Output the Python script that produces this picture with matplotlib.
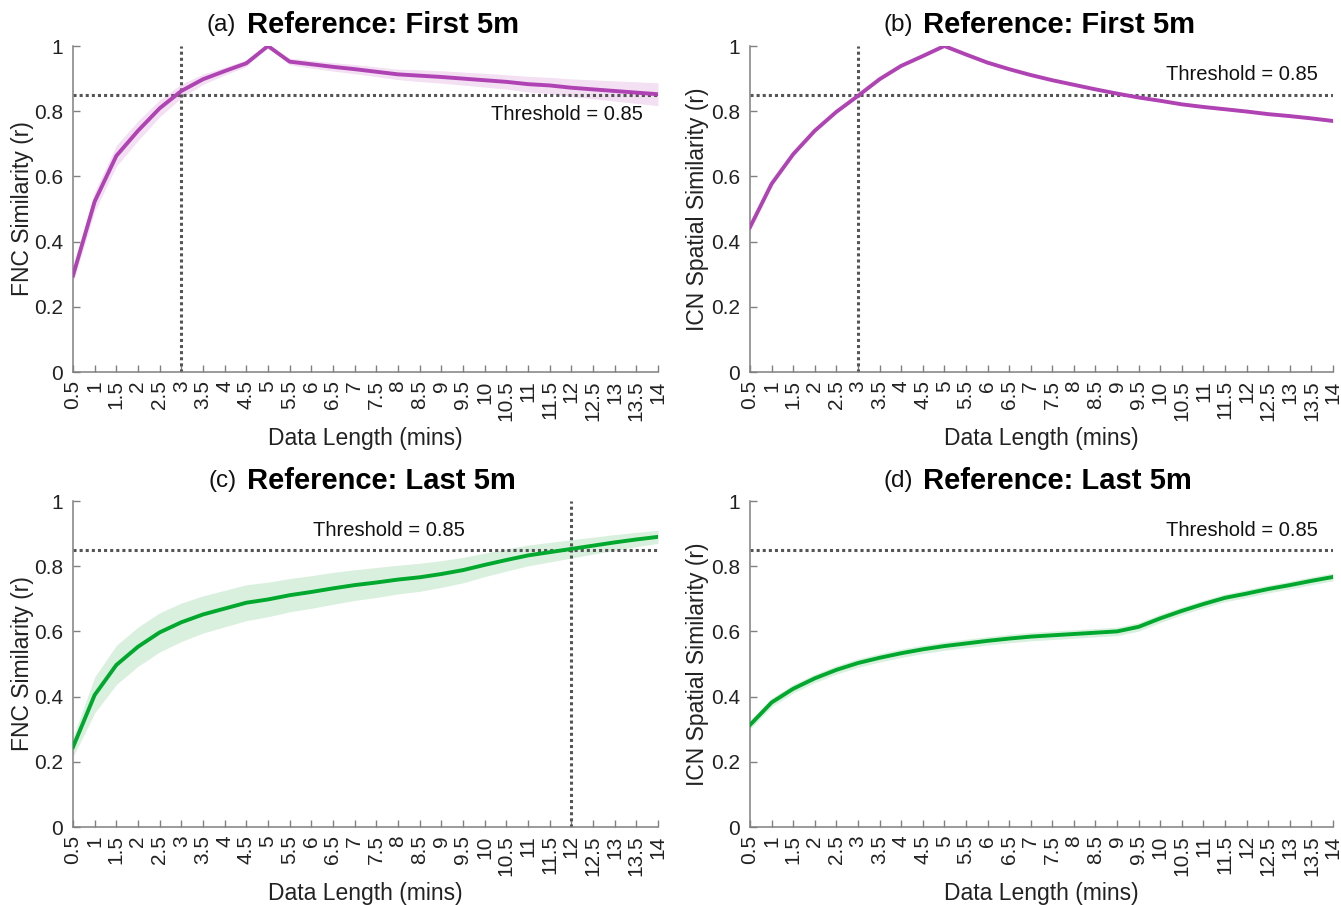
import numpy as np
import matplotlib
matplotlib.use("Agg")
import matplotlib.pyplot as plt

plt.rcParams['font.family'] = ['Liberation Sans', 'DejaVu Sans']

# ---------------- data ----------------
data_length = [0.5, 1, 1.5, 2, 2.5, 3, 3.5, 4, 4.5, 5, 5.5, 6, 6.5, 7, 7.5,
               8, 8.5, 9, 9.5, 10, 10.5, 11, 11.5, 12, 12.5, 13, 13.5, 14]
xtick_labels = ['0.5', '1', '1.5', '2', '2.5', '3', '3.5', '4', '4.5', '5', '5.5',
                '6', '6.5', '7', '7.5', '8', '8.5', '9', '9.5', '10', '10.5', '11',
                '11.5', '12', '12.5', '13', '13.5', '14']
ytick_values = [0, 0.2, 0.4, 0.6, 0.8, 1]
ytick_labels = ['0', '0.2', '0.4', '0.6', '0.8', '1']

# (a) FNC, reference first 5m
fnc_first_mean = [0.296, 0.523, 0.663, 0.740, 0.809, 0.862, 0.898, 0.923, 0.947, 1.000,
                  0.952, 0.944, 0.936, 0.929, 0.921, 0.913, 0.909, 0.905, 0.900, 0.895,
                  0.890, 0.883, 0.879, 0.872, 0.867, 0.862, 0.857, 0.852]
fnc_first_sd = [0.020, 0.030, 0.032, 0.030, 0.026, 0.021, 0.016, 0.012, 0.010, 0.000,
                0.010, 0.012, 0.013, 0.014, 0.015, 0.016, 0.018, 0.019, 0.020, 0.021,
                0.022, 0.024, 0.025, 0.027, 0.029, 0.031, 0.033, 0.035]

# (b) ICN, reference first 5m
icn_first_mean = [0.444, 0.577, 0.668, 0.740, 0.798, 0.847, 0.898, 0.939, 0.969, 1.000,
                  0.974, 0.949, 0.929, 0.911, 0.895, 0.881, 0.867, 0.854, 0.842, 0.832,
                  0.821, 0.813, 0.806, 0.799, 0.791, 0.785, 0.778, 0.770]
icn_first_sd = [0.004, 0.004, 0.004, 0.003, 0.003, 0.003, 0.002, 0.002, 0.001, 0.000,
                0.001, 0.002, 0.002, 0.002, 0.003, 0.003, 0.003, 0.003, 0.003, 0.003,
                0.003, 0.004, 0.004, 0.004, 0.004, 0.004, 0.004, 0.004]

# (c) FNC, reference last 5m
fnc_last_mean = [0.245, 0.405, 0.497, 0.553, 0.597, 0.628, 0.652, 0.670, 0.688, 0.698,
                 0.711, 0.721, 0.732, 0.742, 0.750, 0.759, 0.766, 0.776, 0.788, 0.804,
                 0.819, 0.833, 0.843, 0.853, 0.863, 0.873, 0.882, 0.890]
fnc_last_sd = [0.030, 0.055, 0.060, 0.060, 0.060, 0.059, 0.057, 0.056, 0.055, 0.053,
               0.051, 0.050, 0.049, 0.047, 0.046, 0.044, 0.043, 0.041, 0.039, 0.036,
               0.034, 0.032, 0.030, 0.028, 0.026, 0.024, 0.022, 0.020]

# (d) ICN, reference last 5m
icn_last_mean = [0.313, 0.382, 0.424, 0.456, 0.482, 0.503, 0.519, 0.533, 0.545, 0.555,
                 0.563, 0.571, 0.578, 0.584, 0.588, 0.592, 0.596, 0.600, 0.614, 0.640,
                 0.663, 0.684, 0.703, 0.716, 0.730, 0.742, 0.755, 0.767]
icn_last_sd = [0.012, 0.013, 0.013, 0.013, 0.013, 0.013, 0.013, 0.013, 0.013, 0.013,
               0.013, 0.013, 0.013, 0.013, 0.013, 0.013, 0.013, 0.013, 0.013, 0.013,
               0.012, 0.012, 0.012, 0.012, 0.012, 0.012, 0.012, 0.012]

threshold = 0.85
crossing = {'a': 3, 'b': 3, 'c': 12, 'd': None}

titles = {'a': 'Reference: First 5m', 'b': 'Reference: First 5m',
          'c': 'Reference: Last 5m', 'd': 'Reference: Last 5m'}
ylabels = {'a': 'FNC Similarity (r)', 'b': 'ICN Spatial Similarity (r)',
           'c': 'FNC Similarity (r)', 'd': 'ICN Spatial Similarity (r)'}

PURPLE = '#b043b3'
PURPLE_FILL = '#f3e0f3'
GREEN = '#00a82d'
GREEN_FILL = '#d9f0de'

W, H = 1341, 905
fig = plt.figure(figsize=(W / 100, H / 100), dpi=100)

def px_axes(left, top, right, bottom):
    return fig.add_axes([left / W, 1 - bottom / H, (right - left) / W, (bottom - top) / H])

panels = [
    ('a', px_axes(73, 46, 658, 372), fnc_first_mean, fnc_first_sd, PURPLE, PURPLE_FILL,
     (13.65, 0.79, 'right'), -0.066),
    ('b', px_axes(750, 46, 1333, 372), icn_first_mean, icn_first_sd, PURPLE, PURPLE_FILL,
     (13.65, 0.912, 'right'), -0.071),
    ('c', px_axes(73, 501, 658, 827), fnc_last_mean, fnc_last_sd, GREEN, GREEN_FILL,
     (7.8, 0.908, 'center'), -0.066),
    ('d', px_axes(750, 501, 1333, 827), icn_last_mean, icn_last_sd, GREEN, GREEN_FILL,
     (13.65, 0.908, 'right'), -0.071),
]

x = np.array(data_length)
for key, ax, mean, sd, col, fcol, (tx, ty, tha), ylab_x in panels:
    m = np.array(mean)
    s = np.array(sd)
    ax.fill_between(x, m - s, m + s, color=fcol, linewidth=0, zorder=1)
    ax.axhline(threshold, color='#555555', linestyle=(0, (1, 1.0)), linewidth=2.2, zorder=2)
    if crossing[key] is not None:
        ax.axvline(crossing[key], color='#555555', linestyle=(0, (1, 1.0)), linewidth=2.2, zorder=2)
    ax.plot(x, m, color=col, linewidth=2.8, zorder=3)
    ax.text(tx, ty, 'Threshold = 0.85', ha=tha, va='center', fontsize=14.5, color='#111111')

    ax.set_xlim(0.5, 14)
    ax.set_ylim(0, 1)
    ax.set_xticks(data_length)
    ax.set_xticklabels(xtick_labels, rotation=90, fontsize=15, color='#222222')
    ax.set_yticks(ytick_values)
    ax.set_yticklabels(ytick_labels, fontsize=15, color='#222222')
    ax.tick_params(direction='in', length=5, width=1, color='#808080')
    ax.tick_params(axis='x', pad=6)
    ax.tick_params(axis='y', pad=7)
    for sp in ['top', 'right']:
        ax.spines[sp].set_visible(False)
    for sp in ['left', 'bottom']:
        ax.spines[sp].set_color('#808080')
        ax.spines[sp].set_linewidth(1.1)

    ax.set_xlabel('Data Length (mins)', fontsize=16.5, color='#222222')
    ax.xaxis.set_label_coords(0.5, -0.17)
    ax.set_ylabel(ylabels[key], fontsize=16.5, color='#222222')
    ax.yaxis.set_label_coords(ylab_x, 0.5)

    ty_title = 1.064 if key in ('a', 'b') else 1.061
    ax.text(0.279, ty_title, '(%s)' % key, transform=ax.transAxes, ha='right', va='center',
            fontsize=17.5, color='#111111')
    ax.text(0.297, ty_title, titles[key], transform=ax.transAxes, ha='left', va='center',
            fontsize=21, fontweight='bold', color='#000000')

fig.savefig('out.png', dpi=100)
